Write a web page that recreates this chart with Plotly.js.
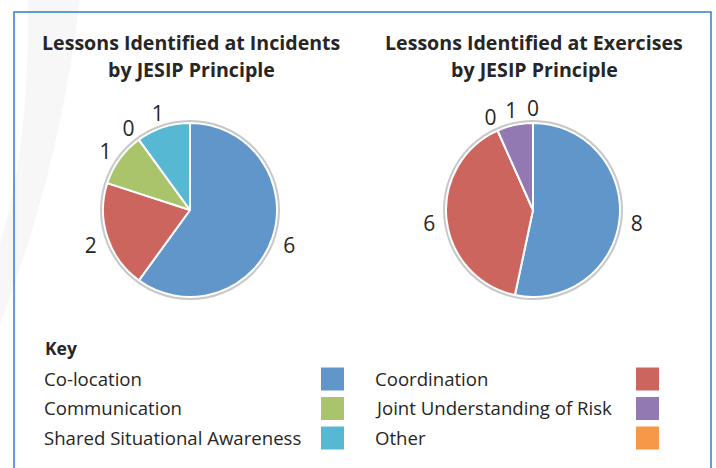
<!DOCTYPE html>
<html>
<head>
<meta charset="utf-8">
<script src="https://cdn.plot.ly/plotly-3.0.1.min.js"></script>
<style>html,body{margin:0;padding:0;background:#fff;}#chart{width:716px;height:468px;}</style>
</head>
<body>
<div id="chart"></div>
<script>
// ---- data ----
var categories = ["Co-location", "Coordination", "Communication", "Joint Understanding of Risk", "Shared Situational Awareness", "Other"];
var categoryColors = ["#6096C9", "#CD655F", "#AAC46C", "#9379B1", "#56B8D2", "#F69847"];
var incidentCategories = ["Co-location", "Coordination", "Communication", "Joint Understanding of Risk", "Shared Situational Awareness"];
var incidentValues = [6, 2, 1, 0, 1];
var exerciseCategories = ["Co-location", "Coordination", "Communication", "Joint Understanding of Risk", "Shared Situational Awareness"];
var exerciseValues = [8, 6, 0, 1, 0];
var titleIncidents = ["Lessons Identified at Incidents", "by JESIP Principle"];
var titleExercises = ["Lessons Identified at Exercises", "by JESIP Principle"];
var keyTitle = "Key";
var keyColumn1 = ["Co-location", "Communication", "Shared Situational Awareness"];
var keyColumn2 = ["Coordination", "Joint Understanding of Risk", "Other"];

// ---- helpers ----
var W = 716, H = 468;
function px(x){ return x / W; }
function py(y){ return 1 - y / H; }
function colorOf(c){ return categoryColors[categories.indexOf(c)]; }
var FONT = "'Open Sans', sans-serif";
var TXT = "#262626";
var LABEL_R = 1.2, POLAR_MAX = 1.3, LABEL_DROP = 5;

var pies = [
  {cats: incidentCategories, vals: incidentValues, cx: 190, cy: 210, r: 87, title: titleIncidents, polar: "polar"},
  {cats: exerciseCategories, vals: exerciseValues, cx: 533, cy: 210, r: 87, title: titleExercises, polar: "polar2"}
];

var data = [];
var layout = {
  width: W, height: H,
  margin: {l: 0, r: 0, t: 0, b: 0},
  paper_bgcolor: "#ffffff",
  showlegend: false,
  font: {family: FONT, color: TXT}
};
var shapes = [];
var annotations = [];

pies.forEach(function(p){
  var dom = {x: [px(p.cx - p.r), px(p.cx + p.r)], y: [py(p.cy + p.r), py(p.cy - p.r)]};
  var R = p.r * POLAR_MAX, lcy = p.cy + LABEL_DROP;
  var pdom = {x: [px(p.cx - R), px(p.cx + R)], y: [py(lcy + R), py(lcy - R)]};
  data.push({
    type: "pie", labels: p.cats, values: p.vals, sort: false,
    direction: "clockwise", rotation: 0, textinfo: "none",
    marker: {colors: p.cats.map(colorOf), line: {color: "#ffffff", width: 2}},
    domain: dom, hoverinfo: "label+value"
  });
  // value labels placed radially at each slice's mid-angle, via a polar overlay
  var total = p.vals.reduce(function(a, b){ return a + b; }, 0);
  var cum = 0, thetas = [];
  p.vals.forEach(function(v){ thetas.push((cum + v / 2) / total * 360); cum += v; });
  data.push({
    type: "scatterpolar", subplot: p.polar, mode: "text",
    r: p.vals.map(function(){ return LABEL_R; }), theta: thetas,
    text: p.vals.map(String), textposition: "middle center",
    textfont: {family: FONT, size: 21, color: TXT},
    cliponaxis: false, hoverinfo: "skip"
  });
  layout[p.polar] = {
    domain: pdom, bgcolor: "rgba(0,0,0,0)",
    radialaxis: {range: [0, POLAR_MAX], showgrid: false, showline: false, showticklabels: false, ticks: ""},
    angularaxis: {rotation: 90, direction: "clockwise", showgrid: false, showline: false, showticklabels: false, ticks: ""}
  };
  var rr = p.r + 2;
  shapes.push({type: "circle", xref: "paper", yref: "paper",
    x0: px(p.cx - rr), x1: px(p.cx + rr), y0: py(p.cy + rr), y1: py(p.cy - rr),
    line: {color: "#C8C8C8", width: 2}, fillcolor: "rgba(0,0,0,0)"});
  p.title.forEach(function(t, i){
    annotations.push({xref: "paper", yref: "paper", x: px(p.cx + 1), y: py(42 + i * 27),
      xanchor: "center", yanchor: "middle", showarrow: false,
      text: "<b>" + t + "</b>", font: {family: FONT, size: 19.6, color: TXT}});
  });
});

// faint background arc
shapes.push({type: "path", xref: "paper", yref: "paper", layer: "below",
  path: "M " + px(28) + "," + py(-2) + " L " + px(80) + "," + py(-2) + " Q " + px(60) + "," + py(170) + " " + px(-2) + "," + py(330) + " L " + px(-2) + "," + py(250) + " Q " + px(30) + "," + py(150) + " " + px(28) + "," + py(-2) + " Z",
  fillcolor: "rgba(0,0,0,0.03)", line: {width: 0}});

// frame
shapes.push({type: "rect", xref: "paper", yref: "paper",
  x0: px(14), x1: px(711), y0: py(480), y1: py(12),
  line: {color: "#2B7FD2", width: 1.5}, fillcolor: "rgba(0,0,0,0)"});

// key
annotations.push({xref: "paper", yref: "paper", x: px(43), y: py(348), xanchor: "left", yanchor: "middle",
  showarrow: false, text: "<b>" + keyTitle + "</b>", font: {family: FONT, size: 17.5, color: TXT}});
var cols = [{items: keyColumn1, tx: 42, sx: 321}, {items: keyColumn2, tx: 373, sx: 636}];
cols.forEach(function(col){
  col.items.forEach(function(c, i){
    var yc = 379 + i * 29.5;
    annotations.push({xref: "paper", yref: "paper", x: px(col.tx), y: py(yc - 1), xanchor: "left", yanchor: "middle",
      showarrow: false, text: c, font: {family: FONT, size: 18.6, color: TXT}});
    shapes.push({type: "rect", xref: "paper", yref: "paper",
      x0: px(col.sx), x1: px(col.sx + 23), y0: py(yc + 11.5), y1: py(yc - 11.5),
      fillcolor: colorOf(c), line: {width: 0}});
  });
});

layout.shapes = shapes;
layout.annotations = annotations;

Plotly.newPlot("chart", data, layout, {displayModeBar: false, staticPlot: true});
</script>
</body>
</html>
